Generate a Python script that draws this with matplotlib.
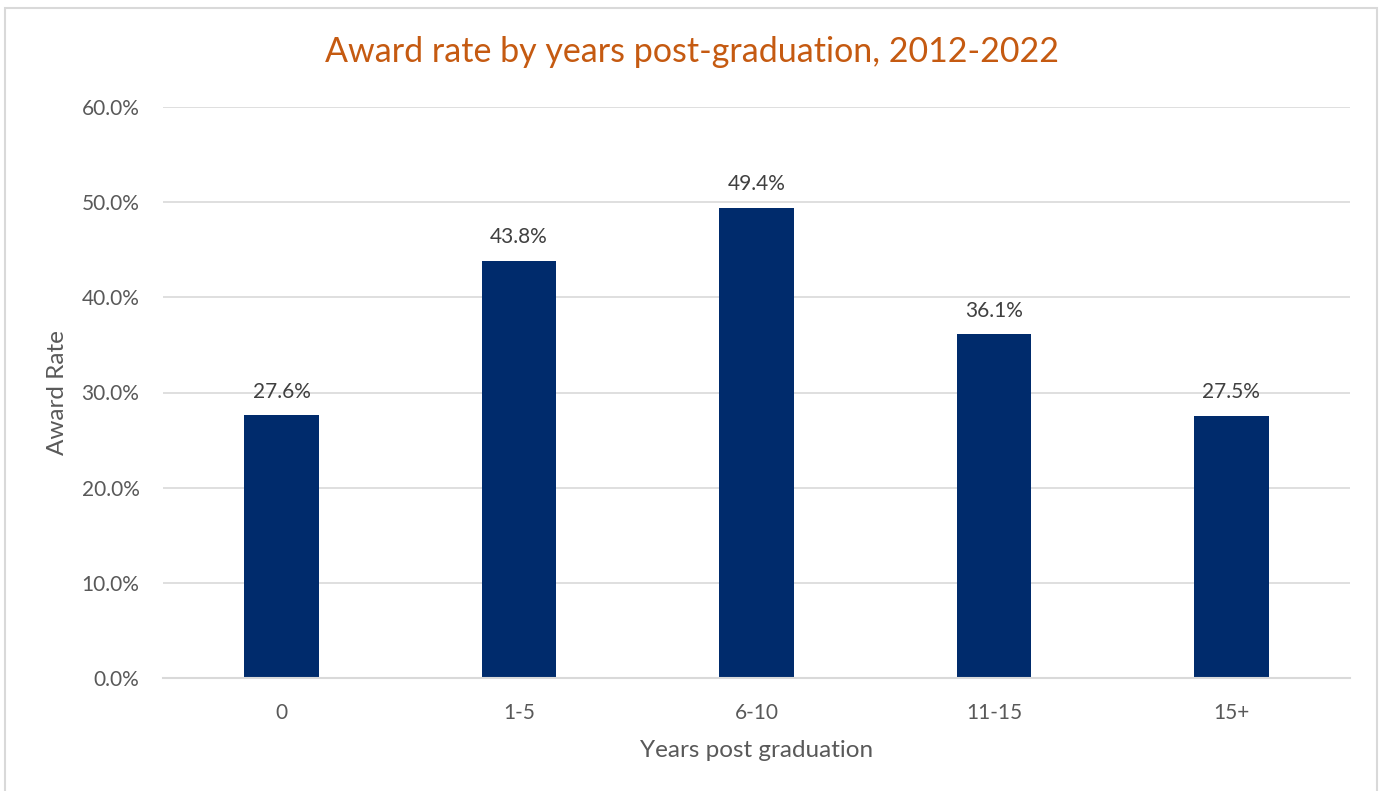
import matplotlib.pyplot as plt
from matplotlib.patches import Rectangle
from matplotlib.ticker import FuncFormatter
import numpy as np

# Data.
categories = ['0', '1-5', '6-10', '11-15', '15+']
award_rate = [27.6, 43.8, 49.4, 36.1, 27.5]
y_ticks = [0, 10, 20, 30, 40, 50, 60]

plt.rcParams['font.family'] = ['Lato', 'DejaVu Sans']

W, H = 1379, 791
fig = plt.figure(figsize=(W / 100, H / 100), dpi=100)
fig.patch.set_facecolor('white')

# Chart border (light gray frame like an Excel chart area).
fig.patches.append(Rectangle((5 / W, -0.01), (1377 - 5) / W, 1 - 8 / H + 0.01,
                             transform=fig.transFigure, fill=False,
                             edgecolor='#D9D9D9', linewidth=1.5))

ax = fig.add_axes([163 / W, 1 - 678 / H, (1350 - 163) / W, (678 - 107) / H])

x = np.arange(len(categories))
ax.bar(x, award_rate, width=0.315, color='#002B6C', zorder=3)

for xi, v in zip(x, award_rate):
    ax.text(xi, v + 2.5, f'{v:.1f}%', ha='center', va='center',
            fontsize=15, color='#404040', zorder=4)

ax.set_xlim(-0.5, len(categories) - 0.5)
ax.set_ylim(0, 60)
ax.set_yticks(y_ticks)
ax.yaxis.set_major_formatter(FuncFormatter(lambda v, p: f'{v:.1f}%'))
ax.set_xticks(x)
ax.set_xticklabels(categories)

ax.grid(axis='y', color='#D9D9D9', linewidth=1.2, zorder=0)
for s in ['top', 'right', 'left']:
    ax.spines[s].set_visible(False)
ax.spines['bottom'].set_color('#D9D9D9')
ax.spines['bottom'].set_linewidth(1.5)
ax.spines['bottom'].set_zorder(5)

ax.tick_params(axis='both', length=0, labelsize=15, colors='#595959')
ax.tick_params(axis='y', pad=17)
ax.tick_params(axis='x', pad=18)

ax.set_xlabel('Years post graduation', fontsize=17.5, color='#595959', labelpad=12)
ax.set_ylabel('Award Rate', fontsize=17.5, color='#595959', labelpad=10)

fig.text(692 / W, 1 - 52 / H, 'Award rate by years post-graduation, 2012-2022',
         ha='center', va='center', fontsize=24.5, color='#C55A11')

fig.savefig('out.png', dpi=100, facecolor='white')
